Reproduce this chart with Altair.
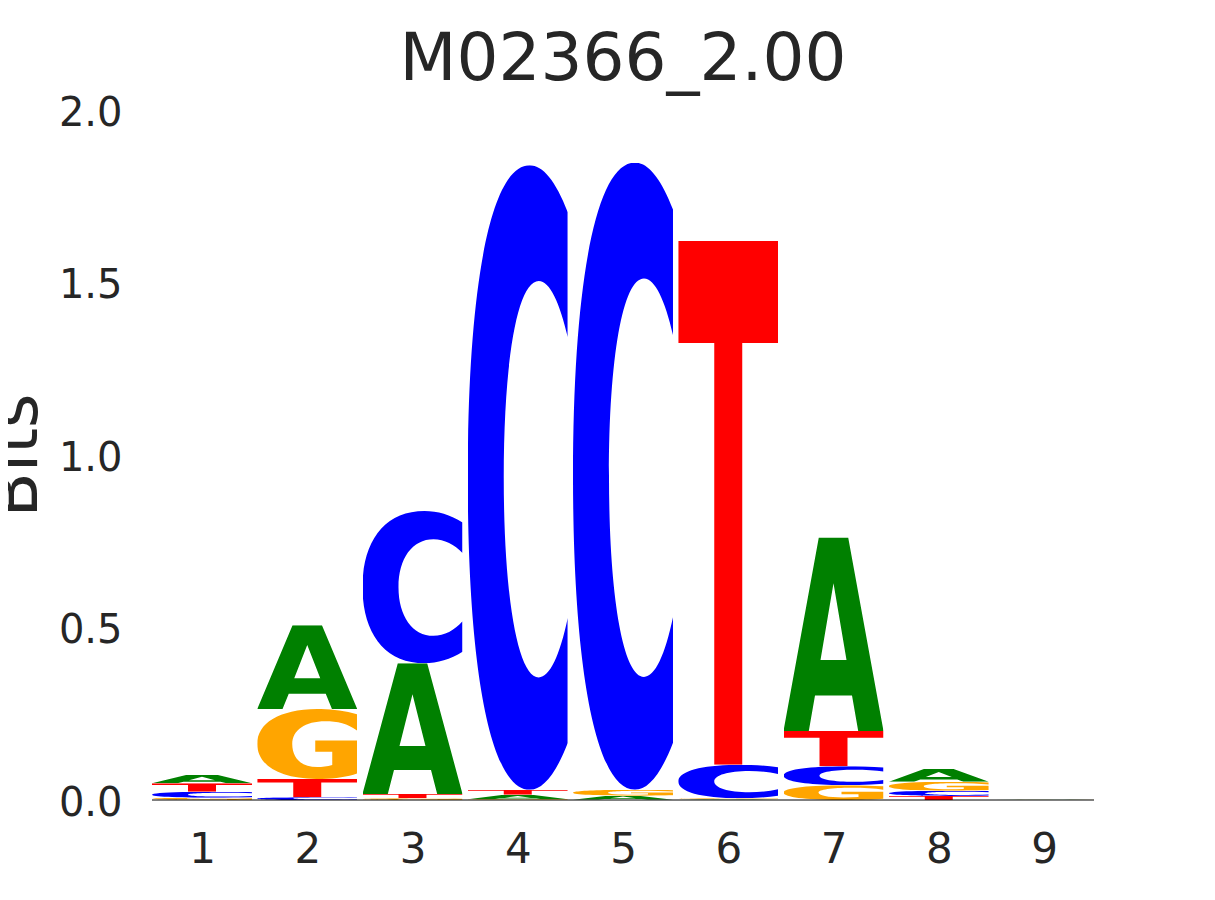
import base64
import altair as alt
import pandas as pd

# ---------------- data ----------------
positions = [1, 2, 3, 4, 5, 6, 7, 8, 9]
bits_A = [0.0249, 0.243, 0.379, 0.013, 0.0116, 0.002, 0.561, 0.037, 0.0010]
bits_C = [0.0174, 0.0078, 0.441, 1.810, 1.818, 0.097, 0.055, 0.0154, 0.0012]
bits_G = [0.0067, 0.203, 0.005, 0.002, 0.017, 0.003, 0.043, 0.026, 0.0009]
bits_T = [0.0243, 0.053, 0.0125, 0.0145, 0.0010, 1.519, 0.102, 0.0116, 0.0008]
letters = ["A", "C", "G", "T"]
y_ticks = [0.0, 0.5, 1.0, 1.5, 2.0]
title_text = "M02366_2.00"
y_title = "Bits"

# ---------------- styling ----------------
letter_colors = {"A": "#008000", "C": "#0000ff", "G": "#ffa500", "T": "#ff0000"}
letter_width = 0.95
text_color = "#262626"
font = "DejaVu Sans"

# glyph outlines in a 100x100 box (stretched to each letter's box)
glyph_paths = {
    "A": "M0,100 L35.3,0 L64.7,0 L100,100 L74.7,100 L68.5,81.7 L31.5,81.7 L25.3,100 Z "
         "M37,63.3 L50,23.7 L63,63.3 Z",
    "C": "M100,7.5 C88,2.5 75,0 62,0 C22,0 0,20 0,50 C0,80 22,100 62,100 "
         "C75,100 88,97.5 100,92.5 L100,72.5 C92,78.5 82,82 71,82 C50,82 36,69 36,50 "
         "C36,31 50,18.5 71,18.5 C82,18.5 92,22 100,27.5 Z",
    "G": "M100,7.5 C88,2.5 75,0 62,0 C22,0 0,20 0,50 C0,80 22,100 62,100 "
         "C77,100 90,97 100,92 L100,45 L58,45 L58,61 L75,61 L75,80 "
         "C70,82 65,83 60,83 C44,83 35,70 35,50 C35,30 48,17.5 68,17.5 "
         "C80,17.5 91,21 100,31 Z",
    "T": "M0,0 L100,0 L100,19.5 L64,19.5 L64,100 L36,100 L36,19.5 L0,19.5 Z",
}


def glyph_uri(letter):
    svg = (
        '<svg xmlns="http://www.w3.org/2000/svg" width="100" height="100" '
        'viewBox="0 0 100 100" preserveAspectRatio="none">'
        f'<path d="{glyph_paths[letter]}" fill="{letter_colors[letter]}" '
        'fill-rule="evenodd"/></svg>'
    )
    return "data:image/svg+xml;base64," + base64.b64encode(svg.encode()).decode()


bits = {"A": bits_A, "C": bits_C, "G": bits_G, "T": bits_T}
rows = []
for i, p in enumerate(positions):
    stack = sorted([(bits[l][i], l) for l in letters])  # smallest at bottom
    base = 0.0
    for h, l in stack:
        rows.append(dict(pos=p, letter=l, bits=h,
                         x0=p - letter_width / 2, x1=p + letter_width / 2,
                         y0=base, y1=base + h, url=glyph_uri(l)))
        base += h
df = pd.DataFrame(rows)

x_lo = positions[0] - letter_width / 2
x_hi = positions[-1] + letter_width / 2
base_df = pd.DataFrame({"x0": [x_lo], "x1": [x_hi], "y": [0.0]})

x_scale = alt.Scale(domain=[x_lo, x_hi], nice=False, zero=False)
y_scale = alt.Scale(domain=[y_ticks[0], y_ticks[-1]], nice=False, zero=False)

x_axis = alt.Axis(values=positions, format="d", title=None, labelFontSize=42,
                  labelFont=font, labelColor=text_color, domain=False, ticks=False,
                  tickSize=0, grid=False, labelPadding=29, labelAngle=0)
y_axis = alt.Axis(values=y_ticks, format=".1f", title=y_title, labelFontSize=40,
                  labelFont=font, labelColor=text_color, domain=False, ticks=False,
                  tickSize=0, grid=False, labelPadding=30, labelOffset=3,
                  titleFontSize=66, titleFont=font, titleFontWeight=400,
                  titleColor=text_color, titleAngle=270, titleX=-116, titleY=345,
                  titleBaseline="alphabetic", titleAlign="center")

logo = alt.Chart(df).mark_image(aspect=False).encode(
    x=alt.X("x0:Q", scale=x_scale, axis=x_axis),
    x2="x1:Q",
    y=alt.Y("y0:Q", scale=y_scale, axis=y_axis),
    y2="y1:Q",
    url="url:N",
    tooltip=["pos:Q", "letter:N", "bits:Q"],
)

baseline = alt.Chart(base_df).mark_rule(color="black", strokeWidth=1).encode(
    x=alt.X("x0:Q", scale=x_scale),
    x2="x1:Q",
    y=alt.Y("y:Q", scale=y_scale),
)

chart = alt.layer(logo, baseline).properties(
    width=942,
    height=690,
    title=alt.TitleParams(text=title_text, fontSize=66, font=font,
                          fontWeight=400, color=text_color, anchor="middle",
                          offset=-1),
    autosize=alt.AutoSizeParams(type="none"),
    padding={"left": 144, "top": 102, "right": 100, "bottom": 80},
    background="white",
).configure_view(strokeWidth=0)

chart.save("out.html", embed_options={"renderer": "svg", "actions": False})
